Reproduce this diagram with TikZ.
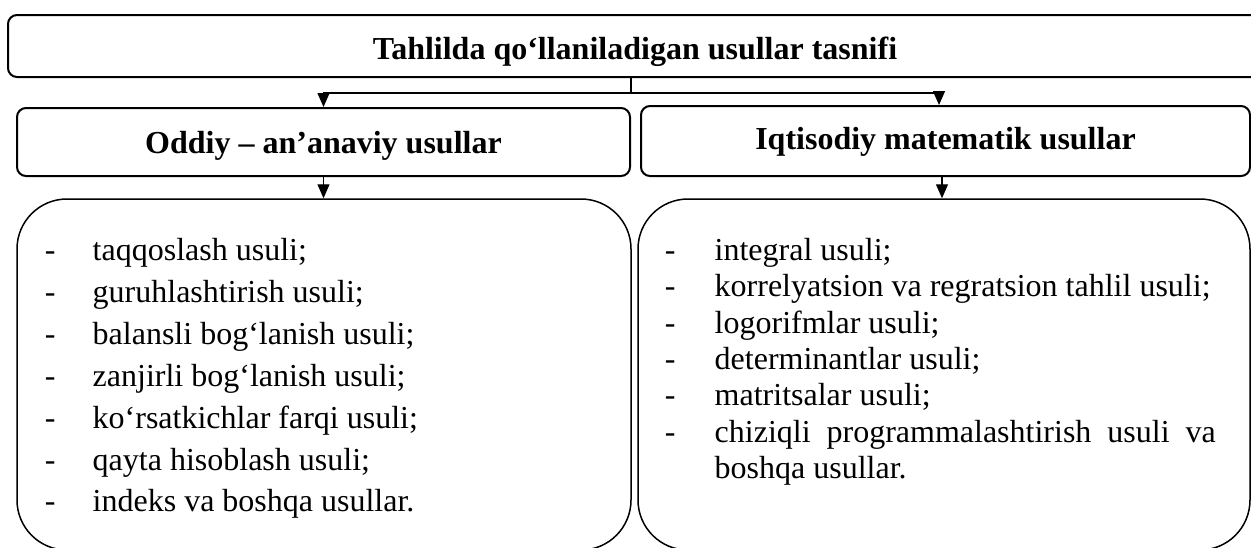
\documentclass[tikz,border=0pt]{standalone}
\usepackage{fontspec}
\setmainfont{Liberation Serif}
\usetikzlibrary{arrows.meta}
\begin{document}
\begin{tikzpicture}[x=1pt,y=-1pt,
  headbox/.style={draw, line width=2pt, rounded corners=9pt, inner sep=0pt,
    font=\fontsize{32}{38}\selectfont\bfseries, text depth=0pt},
  bigbox/.style={draw, line width=1.5pt, rounded corners=50pt, inner sep=0pt},
  conn/.style={line width=1.3pt},
  arr/.style={line width=1.3pt, -{Triangle[width=12pt,length=14pt]}},
  item/.style={anchor=base west, inner sep=0pt, font=\fontsize{32}{38}\selectfont}]
\useasboundingbox (0,0) rectangle (1251,547);
\clip (0,0) rectangle (1251,547);

% boxes
\node[headbox, minimum width=1254pt, minimum height=62pt, text height=26pt] (top) at (635,46)
  {Tahlilda qo‘llaniladigan usullar tasnifi};
\node[headbox, minimum width=613pt, minimum height=68pt, text height=22pt] (lmid) at (323.5,142)
  {Oddiy – an’anaviy usullar};
\node[headbox, minimum width=609pt, minimum height=70pt, text height=16pt] (rmid) at (945.5,141)
  {Iqtisodiy matematik usullar};
\node[bigbox, minimum width=614pt, minimum height=351pt] (lbig) at (324,374.5) {};
\node[bigbox, minimum width=612pt, minimum height=351pt] (rbig) at (944,374.5) {};

% connectors
\coordinate (j) at (631,93);
\draw[conn] (j |- top.south) -- (j);
\draw[arr] (j) -| (lmid.north);
\draw[arr] (j) -| ([xshift=-6.5pt]rmid.north);
\draw[arr] (lmid.south) -- (lmid.south |- lbig.north);
\draw[arr] ([xshift=-3.5pt]rmid.south) -- ([xshift=-3.5pt]rmid.south |- rbig.north);

% left list
\foreach \t [count=\i from 0] in {{taqqoslash usuli;},{guruhlashtirish usuli;},{balansli bog‘lanish usuli;},{zanjirli bog‘lanish usuli;},{ko‘rsatkichlar farqi usuli;},{qayta hisoblash usuli;},{indeks va boshqa usullar.}}{
  \node[item] (ld\i) at (44.7,260.5+41.9*\i) {-};
  \node[item] (lt\i) at (92.5,260.5+41.9*\i) {\t};
}

% right list
\foreach \t [count=\i from 0] in {{integral usuli;},{korrelyatsion va regratsion tahlil usuli;},{logorifmlar usuli;},{determinantlar usuli;},{matritsalar usuli;},{\makebox[501pt][s]{chiziqli programmalashtirish usuli va}}}{
  \node[item] (rd\i) at (664.7,260.5+36.3*\i) {-};
  \node[item] (rt\i) at (714.5,260.5+36.3*\i) {\t};
}
\node[item] (rt6) at (714.5,260.5+36.3*6) {boshqa usullar.};
\end{tikzpicture}
\end{document}
